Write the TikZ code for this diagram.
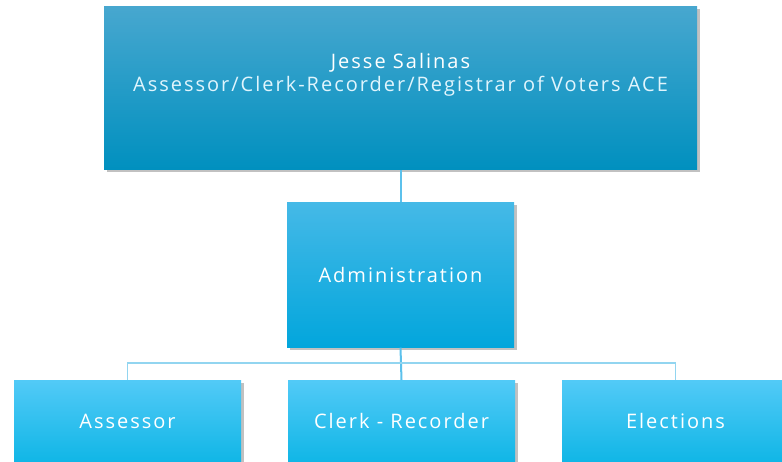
\documentclass[tikz,border=0pt]{standalone}
\usepackage{fontspec}
\setmainfont{Open Sans}[LetterSpace=10]
\usetikzlibrary{positioning}
\usetikzlibrary{shadows}

\definecolor{headtop}{HTML}{47A7CF}
\definecolor{headbot}{HTML}{0090BF}
\definecolor{admtop}{HTML}{45B9E7}
\definecolor{admbot}{HTML}{02A6DC}
\definecolor{deptop}{HTML}{52CAF7}
\definecolor{depmid}{HTML}{1CC6FA}
\definecolor{depbot}{HTML}{10B6E6}
\definecolor{linkblue}{HTML}{5CC1EC}
\definecolor{linklight}{HTML}{92D5F0}

\begin{document}
\begin{tikzpicture}[x=1pt,y=1pt,
  box/.style={rectangle,inner sep=0pt,text=white,font=\fontsize{20}{24}\selectfont,
    drop shadow={shadow xshift=2.5pt,shadow yshift=-2.5pt,opacity=0.35,fill=black!70}},
  dept/.style={box,top color=deptop,middle color=depmid,bottom color=depbot,
    minimum width=227pt,minimum height=82pt,anchor=north},
  link/.style={draw=linkblue,line width=2pt},
  fork/.style={draw=linklight,line width=1.6pt}
]
\clip (0,0) rectangle (782,461);
\useasboundingbox (0,0) rectangle (782,461);

% chief
\node[box,top color=headtop,bottom color=headbot,minimum width=593pt,minimum height=163pt] (J) at (400.5,372.5) {};
\node[text=white,font=\fontsize{20}{24}\selectfont] (Jname) at ([yshift=25.5pt]J.center) {Jesse Salinas};
\node[text=white!88!cyan,font=\fontsize{20}{24}\selectfont] (Jtitle) at ([yshift=2pt]J.center) {Assessor/Clerk-Recorder/Registrar of Voters ACE};

% administration
\node[box,top color=admtop,bottom color=admbot,minimum width=227pt,minimum height=145pt,below=32pt of J] (A) {Administration};

% departments
\node[dept] (S) at (127.5,81) {Assessor};
\node[dept] (C) at (401.5,81) {Clerk - Recorder};
\node[dept] (E) at (675.5,81) {Elections};

\coordinate (F) at (401.5,98);
\draw[link] (J.south) -- (A.north);
\draw[link] (A.south) -- (C.north);
\draw[fork] (S.north) |- (F) -| (E.north);

\end{tikzpicture}
\end{document}
